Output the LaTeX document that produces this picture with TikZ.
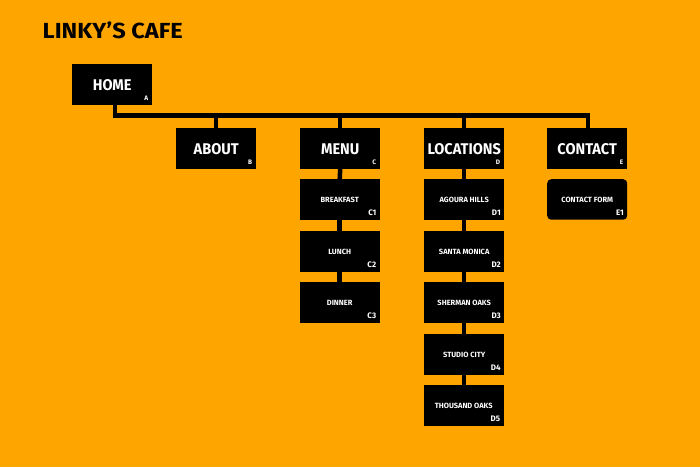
\documentclass[tikz,border=0pt]{standalone}
\usepackage{fontspec}
\setmainfont{Fira Sans}
\usepackage{graphicx}
\definecolor{bgorange}{HTML}{FFA500}
\newcommand\cond[2][0.94]{\scalebox{#1}[1]{#2}}
\tikzset{
  pagebox/.style={fill=black, minimum width=80pt, minimum height=40.5pt, inner sep=0pt, anchor=north west},
  formbox/.style={pagebox, rounded corners=4pt},
  bigtxt/.style={text=white, font=\fontsize{15.5}{16}\selectfont\bfseries, inner sep=0pt},
  smalltxt/.style={text=white, font=\fontsize{7.5}{8}\selectfont\bfseries, inner sep=0pt},
  bigtag/.style={text=white, font=\fontsize{6.5}{7}\selectfont\bfseries, inner sep=0pt, anchor=south east},
  smalltag/.style={text=white, font=\fontsize{8}{9}\selectfont\bfseries, inner sep=0pt, anchor=south east},
  conn/.style={draw=black, line width=4.5pt}
}
\begin{document}
\begin{tikzpicture}[x=1pt,y=-1pt]
\fill[bgorange] (0,0) rectangle (700,467);
\useasboundingbox (0,0) rectangle (700,467);

\node[anchor=base west, inner sep=0pt] (title) at (42.5,38.5) {\resizebox{140pt}{16.7pt}{\bfseries LINKY’S CAFE}};

% level 1
\node[pagebox] (home) at (72,64) {};
% level 2
\node[pagebox] (about) at (176,128) {};
\node[pagebox] (menu) at (300,128) {};
\node[pagebox] (loc) at (424,128) {};
\node[pagebox] (contact) at (547,128) {};
% menu children
\node[pagebox] (c1) at (299.5,179) {};
\node[pagebox] (c2) at (299.5,231) {};
\node[pagebox] (c3) at (299.5,282) {};
% locations children
\node[pagebox] (d1) at (424,179) {};
\node[pagebox] (d2) at (424,231) {};
\node[pagebox] (d3) at (424,282) {};
\node[pagebox] (d4) at (424,334) {};
\node[pagebox] (d5) at (423.5,385) {};
% contact child
\node[formbox] (e1) at (547,179) {};

% connectors
\coordinate (busL) at (115,115.5);
\coordinate (busR) at (588,115.5);
\draw[conn] (home.south -| busL) -- (busL) -- (busR) -- (busR |- contact.north);
\draw[conn] (about.north) -- (about.north |- busL);
\draw[conn] (menu.north) -- (menu.north |- busL);
\draw[conn] (loc.north) -- (loc.north |- busL);
\draw[conn] (menu.south) -- (c1.north);
\draw[conn] (c1.south) -- (c2.north);
\draw[conn] (c2.south) -- (c3.north);
\draw[conn] (loc.south) -- (d1.north);
\draw[conn] (d1.south) -- (d2.north);
\draw[conn] (d2.south) -- (d3.north);
\draw[conn] (d3.south) -- (d4.north);
\draw[conn] (d4.south) -- (d4.south |- d5.north);

% texts
\node[bigtxt] (homeT) at ([yshift=-0.5pt]home) {\cond{HOME}};
\node[bigtxt] (aboutT) at ([yshift=-0.5pt]about) {\cond{ABOUT}};
\node[bigtxt] (menuT) at ([yshift=-0.5pt]menu) {\cond{MENU}};
\node[bigtxt] (locT) at ([yshift=-0.5pt]loc) {\cond{LOCATIONS}};
\node[bigtxt] (contactT) at ([yshift=-0.5pt]contact) {\cond{CONTACT}};
\node[smalltxt] (c1T) at (c1) {BREAKFAST};
\node[smalltxt] (c2T) at (c2) {LUNCH};
\node[smalltxt] (c3T) at (c3) {DINNER};
\node[smalltxt] (d1T) at (d1) {AGOURA HILLS};
\node[smalltxt] (d2T) at (d2) {SANTA MONICA};
\node[smalltxt] (d3T) at (d3) {SHERMAN OAKS};
\node[smalltxt] (d4T) at (d4) {STUDIO CITY};
\node[smalltxt] (d5T) at (d5) {THOUSAND OAKS};
\node[smalltxt] (e1T) at (e1) {CONTACT FORM};

% tags
\node[bigtag] (homeG) at ([xshift=-4pt,yshift=4.5pt]home.south east) {A};
\node[bigtag] (aboutG) at ([xshift=-4pt,yshift=4.5pt]about.south east) {B};
\node[bigtag] (menuG) at ([xshift=-4pt,yshift=4.5pt]menu.south east) {C};
\node[bigtag] (locG) at ([xshift=-4pt,yshift=4.5pt]loc.south east) {D};
\node[bigtag] (contactG) at ([xshift=-4pt,yshift=4.5pt]contact.south east) {E};
\node[smalltag] (c1G) at ([xshift=-3.5pt,yshift=4pt]c1.south east) {C1};
\node[smalltag] (c2G) at ([xshift=-3.5pt,yshift=4pt]c2.south east) {C2};
\node[smalltag] (c3G) at ([xshift=-3.5pt,yshift=4pt]c3.south east) {C3};
\node[smalltag] (d1G) at ([xshift=-3.5pt,yshift=4pt]d1.south east) {D1};
\node[smalltag] (d2G) at ([xshift=-3.5pt,yshift=4pt]d2.south east) {D2};
\node[smalltag] (d3G) at ([xshift=-3.5pt,yshift=4pt]d3.south east) {D3};
\node[smalltag] (d4G) at ([xshift=-3.5pt,yshift=4pt]d4.south east) {D4};
\node[smalltag] (d5G) at ([xshift=-3.5pt,yshift=4pt]d5.south east) {D5};
\node[smalltag] (e1G) at ([xshift=-3.5pt,yshift=4pt]e1.south east) {E1};
\end{tikzpicture}
\end{document}
